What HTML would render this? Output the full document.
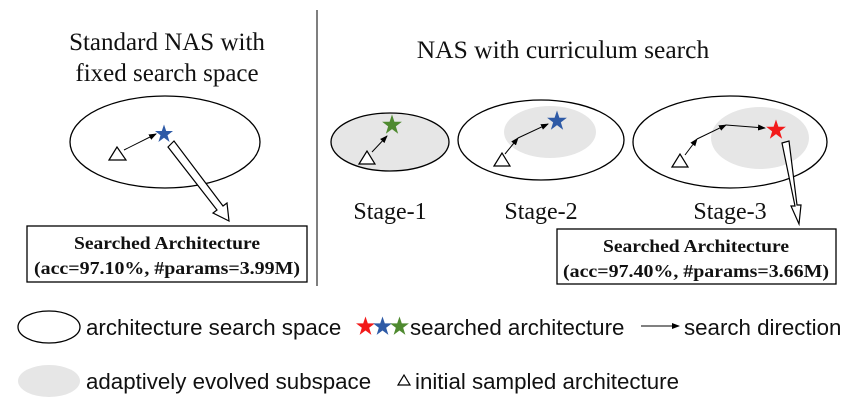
<!DOCTYPE html>
<html><head><meta charset="utf-8"><style>
body{margin:0;background:#fff;width:866px;height:410px;overflow:hidden}
svg{display:block}
.s{font-family:"Liberation Serif",serif;fill:#111}
.a{font-family:"Liberation Sans",sans-serif;fill:#111;font-size:22.3px}
</style></head><body>
<svg width="866" height="410" viewBox="0 0 866 410">
<defs>
<marker id="m" markerWidth="8" markerHeight="8" refX="7" refY="4" orient="auto" markerUnits="userSpaceOnUse"><path d="M0,1 L8,4 L0,7z" fill="#000"/></marker>
<symbol id="st" viewBox="-10 -10 20 20"><polygon points="0,-9.5 2.2,-3 9,-3 3.5,1.2 5.6,8 0,3.8 -5.6,8 -3.5,1.2 -9,-3 -2.2,-3"/></symbol>
</defs>
<line x1="317" y1="10" x2="317" y2="286" stroke="#555" stroke-width="1.5"/>
<text class="s" font-size="25" x="167" y="50" text-anchor="middle">Standard NAS with</text>
<text class="s" font-size="25" x="167" y="81" text-anchor="middle">fixed search space</text>
<text class="s" font-size="25.5" x="563" y="58" text-anchor="middle">NAS with curriculum search</text>
<!-- left -->
<ellipse cx="165" cy="142" rx="95" ry="46" fill="none" stroke="#000" stroke-width="1.3"/>
<polygon points="109,160 117,147 126,160" fill="#fff" stroke="#000" stroke-width="1.2"/>
<line x1="124" y1="150" x2="156" y2="134" stroke="#000" marker-end="url(#m)"/>
<use href="#st" x="154" y="124" width="20" height="20" fill="#2e5aa6"/>
<polygon points="168,147 174,141 223,206 227,203 229,221 213,213 217,210" fill="#fff" stroke="#000" stroke-width="1.2"/>
<rect x="27" y="226" width="280" height="56" fill="#fff" stroke="#000" stroke-width="1.3"/>
<text class="s" font-size="18" font-weight="bold" x="167" y="249" text-anchor="middle" textLength="186" lengthAdjust="spacingAndGlyphs">Searched Architecture</text>
<text class="s" font-size="18" font-weight="bold" x="167" y="274" text-anchor="middle" textLength="266" lengthAdjust="spacingAndGlyphs">(acc=97.10%, #params=3.99M)</text>
<!-- stage1 -->
<ellipse cx="390" cy="142" rx="59" ry="29" fill="#e6e6e6" stroke="#000" stroke-width="1.3"/>
<polygon points="359,164 367,151 375,164" fill="#fff" stroke="#000" stroke-width="1.2"/>
<line x1="372" y1="152" x2="387" y2="136" stroke="#000" marker-end="url(#m)"/>
<use href="#st" x="381" y="114" width="22" height="22" fill="#4f8a30"/>
<text class="s" font-size="24" x="390" y="219" text-anchor="middle">Stage-1</text>
<!-- stage2 -->
<ellipse cx="541" cy="140" rx="83" ry="40" fill="none" stroke="#000" stroke-width="1.3"/>
<ellipse cx="550" cy="132" rx="46" ry="26" fill="#e6e6e6"/>
<polygon points="494,166 502,153 510,166" fill="#fff" stroke="#000" stroke-width="1.2"/>
<polyline points="505,154 518,138" fill="none" stroke="#000" marker-end="url(#m)"/>
<line x1="518" y1="138" x2="548" y2="124" stroke="#000" marker-end="url(#m)"/>
<use href="#st" x="546" y="110" width="22" height="22" fill="#2e5aa6"/>
<text class="s" font-size="24" x="541" y="219" text-anchor="middle">Stage-2</text>
<!-- stage3 -->
<ellipse cx="730" cy="142" rx="97" ry="46" fill="none" stroke="#000" stroke-width="1.3"/>
<ellipse cx="760" cy="138" rx="49" ry="31" fill="#e6e6e6"/>
<polygon points="672,167 680,154 688,167" fill="#fff" stroke="#000" stroke-width="1.2"/>
<line x1="685" y1="155" x2="697" y2="139" stroke="#000" marker-end="url(#m)"/>
<line x1="697" y1="139" x2="726" y2="125" stroke="#000" marker-end="url(#m)"/>
<line x1="726" y1="125" x2="765" y2="128" stroke="#000" marker-end="url(#m)"/>
<use href="#st" x="765" y="119" width="22" height="22" fill="#f21a1a"/>
<polygon points="782,143 789,141 797,205 801,205 799,224 791,206 795,206" fill="#fff" stroke="#000" stroke-width="1.2"/>
<text class="s" font-size="24" x="730" y="219" text-anchor="middle">Stage-3</text>
<rect x="557" y="229" width="279" height="55" fill="#fff" stroke="#000" stroke-width="1.3"/>
<text class="s" font-size="18" font-weight="bold" x="696" y="252" text-anchor="middle" textLength="186" lengthAdjust="spacingAndGlyphs">Searched Architecture</text>
<text class="s" font-size="18" font-weight="bold" x="696" y="277" text-anchor="middle" textLength="266" lengthAdjust="spacingAndGlyphs">(acc=97.40%, #params=3.66M)</text>
<!-- legend -->
<ellipse cx="49" cy="327" rx="31" ry="16" fill="none" stroke="#000" stroke-width="1.3"/>
<text class="a" x="86" y="335">architecture search space</text>
<use href="#st" x="355" y="316" width="21" height="21" fill="#f21a1a"/>
<use href="#st" x="372" y="316" width="21" height="21" fill="#2e5aa6"/>
<use href="#st" x="389" y="316" width="21" height="21" fill="#4f8a30"/>
<text class="a" x="410" y="335">searched architecture</text>
<line x1="641" y1="326" x2="679" y2="326" stroke="#000" marker-end="url(#m)"/>
<text class="a" x="684" y="335">search direction</text>
<ellipse cx="49" cy="381" rx="31" ry="16" fill="#e6e6e6"/>
<text class="a" x="86" y="389">adaptively evolved subspace</text>
<polygon points="398,385 404,375 410,385" fill="#fff" stroke="#000" stroke-width="1.2"/>
<text class="a" x="415" y="389">initial sampled architecture</text>
</svg>
</body></html>
